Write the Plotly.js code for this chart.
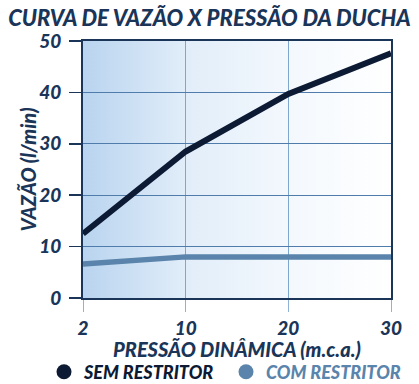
<!DOCTYPE html>
<html><head><meta charset="utf-8">
<script src="https://cdn.plot.ly/plotly-3.0.1.min.js"></script>
<style>body{margin:0;background:#fff}#c{width:419px;height:384px}</style>
</head><body><div id="c"></div>
<script>
const pressures = ['2', '10', '20', '30'];
const semRestritor = [12.5, 28.5, 39.7, 47.6];
const comRestritor = [6.6, 8.0, 8.0, 8.0];
const yTicks = [0, 10, 20, 30, 40, 50];
const seriesNames = ['SEM RESTRITOR', 'COM RESTRITOR'];
const seriesColors = ['#0c1a33', '#5a84ab'];

const navy = '#1a3558';
const fontFam = 'Lato, "Open Sans", sans-serif';
const bi = (size, color) => ({family: fontFam, size: size, color: color, weight: 900, style: 'italic'});

const svg = '<svg xmlns="http://www.w3.org/2000/svg" width="300" height="100" preserveAspectRatio="none">' +
 '<defs><linearGradient id="g" x1="0" y1="0" x2="1" y2="0">' +
 '<stop offset="0" stop-color="#b9d4ef"/><stop offset="0.33" stop-color="#e1edf9"/>' +
 '<stop offset="0.66" stop-color="#f3f8fd"/><stop offset="1" stop-color="#ffffff"/></linearGradient></defs>' +
 '<rect width="300" height="100" fill="url(#g)"/></svg>';
const bg = 'data:image/svg+xml;base64,' + btoa(svg);

const traces = [
  {x: pressures, y: semRestritor, mode: 'lines', showlegend: false,
   line: {color: seriesColors[0], width: 6}},
  {x: pressures, y: comRestritor, mode: 'lines', showlegend: false,
   line: {color: seriesColors[1], width: 5.5}},
  {x: [null], y: [null], mode: 'markers', name: seriesNames[0], legend: 'legend',
   marker: {color: seriesColors[0], size: 15}},
  {x: [null], y: [null], mode: 'markers', name: seriesNames[1], legend: 'legend2',
   marker: {color: seriesColors[1], size: 15}}
];

const legendBase = (x, color) => ({orientation: 'h', xref: 'container', x: x, xanchor: 'left',
  yref: 'container', y: 12 / 384, yanchor: 'middle', font: bi(18, color), itemwidth: 30,
  bgcolor: 'rgba(0,0,0,0)'});

const layout = {
  width: 419, height: 384,
  margin: {l: 83, r: 28, t: 41, b: 86},
  paper_bgcolor: '#ffffff', plot_bgcolor: 'rgba(0,0,0,0)',
  font: {family: fontFam, color: navy},
  title: {text: 'CURVA DE VAZÃO X PRESSÃO DA DUCHA', x: 0.5, xanchor: 'center',
          y: 1 - 18 / 384, yanchor: 'middle', yref: 'container',
          font: bi(22, navy)},
  images: [{source: bg, xref: 'paper', yref: 'paper', x: 0, y: 1, sizex: 1, sizey: 1,
            sizing: 'stretch', layer: 'below', xanchor: 'left', yanchor: 'top'}],
  xaxis: {type: 'category', categoryorder: 'array', categoryarray: pressures, range: [0, 3],
          showgrid: true, gridcolor: '#7fa6cf', gridwidth: 1,
          showline: true, mirror: true, linecolor: navy, linewidth: 2,
          ticks: 'outside', ticklen: 12, tickcolor: '#8fb2d6', tickwidth: 1,
          tickfont: bi(19, navy), zeroline: false, fixedrange: true},
  yaxis: {range: [0, 50], tickvals: yTicks, ticktext: yTicks.map(String),
          showgrid: true, gridcolor: '#4f7cab', gridwidth: 1,
          showline: true, mirror: true, linecolor: navy, linewidth: 2,
          ticks: 'outside', ticklen: 12, tickcolor: navy, tickwidth: 1.5,
          ticklabelstandoff: 4,
          tickfont: bi(19, navy), zeroline: false, fixedrange: true},
  annotations: [
    {text: 'PRESSÃO DINÂMICA (m.c.a.)', xref: 'paper', yref: 'paper', x: 0.5, y: -51 / 257,
     xanchor: 'center', yanchor: 'middle', showarrow: false, font: bi(20, navy)},
    {text: 'VAZÃO (l/min)', xref: 'paper', yref: 'paper', x: -56 / 308, y: 0.5, textangle: -90,
     xanchor: 'center', yanchor: 'middle', showarrow: false, font: bi(20, navy)}
  ],
  showlegend: true,
  legend: legendBase(44 / 419, seriesColors[0]),
  legend2: legendBase(226 / 419, seriesColors[1])
};

Plotly.newPlot('c', traces, layout, {staticPlot: true, displayModeBar: false});
</script></body></html>
